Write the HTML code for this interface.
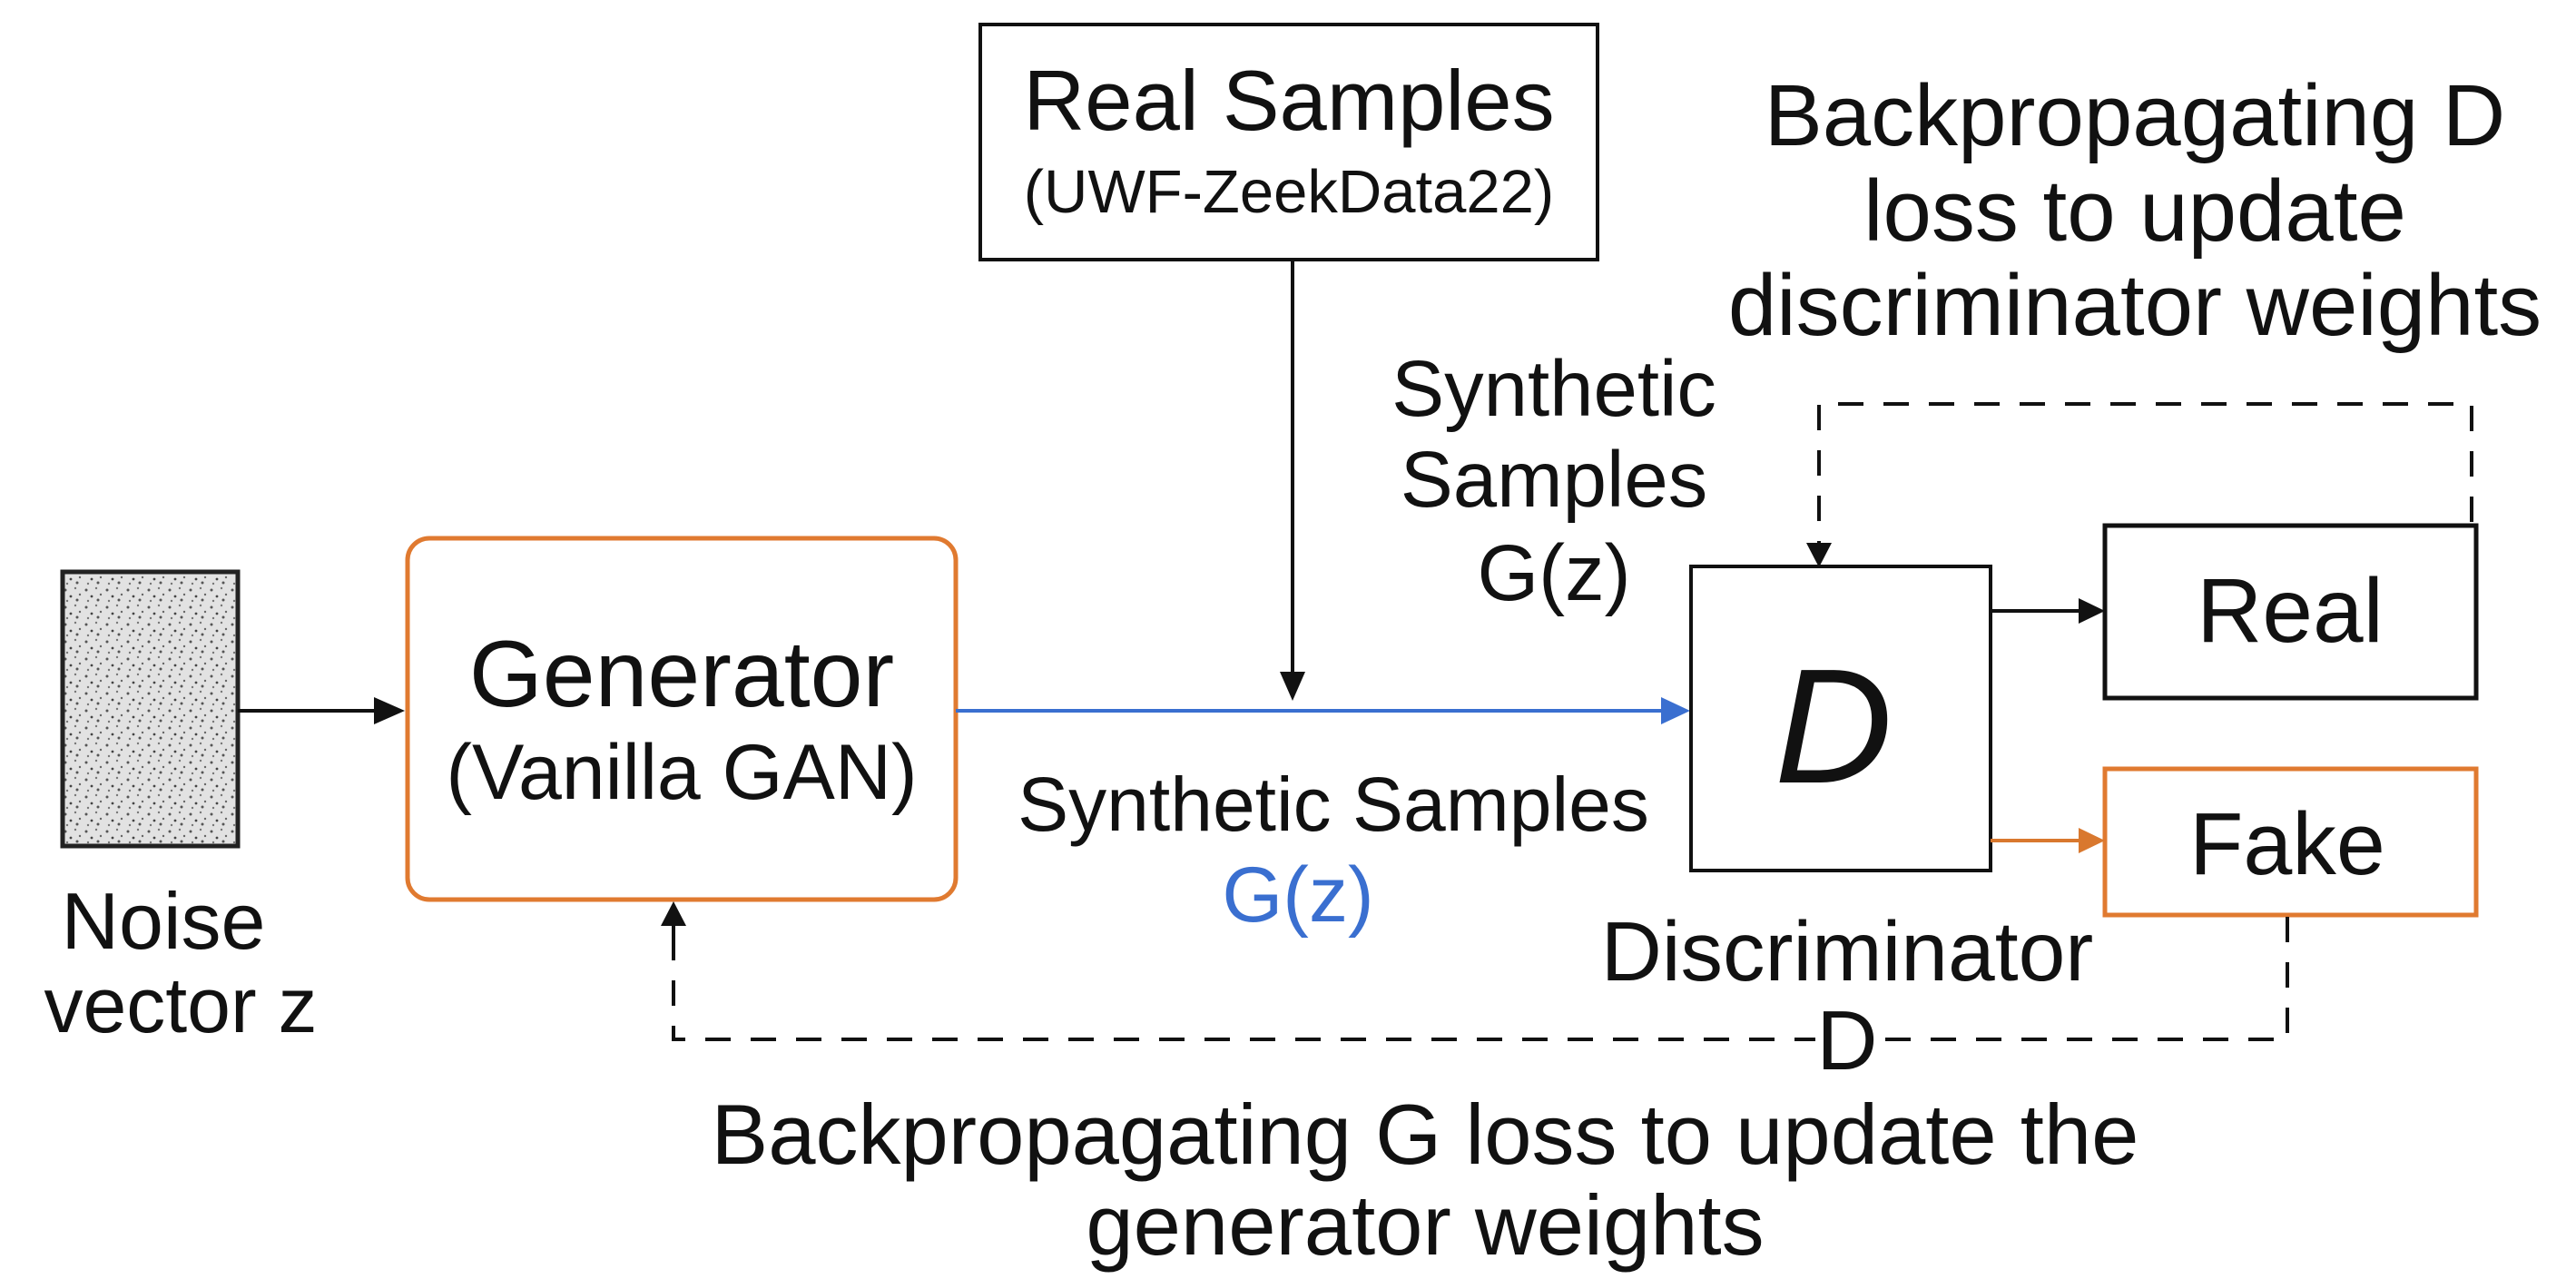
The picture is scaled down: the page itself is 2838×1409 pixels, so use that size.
<!DOCTYPE html>
<html><head><meta charset="utf-8"><style>
html,body{margin:0;padding:0;background:#fff;}
svg{display:block;}
text{font-family:"Liberation Sans",Arial,sans-serif;fill:#111;}
</style></head><body>
<svg width="2838" height="1409" viewBox="0 0 2838 1409" xmlns="http://www.w3.org/2000/svg">
<defs>
<pattern id="nz" width="23" height="19" patternUnits="userSpaceOnUse">
<rect width="23" height="19" fill="#e2e2e2"/>
<circle cx="3" cy="4" r="1.5" fill="#555"/><circle cx="14" cy="2" r="1.2" fill="#777"/>
<circle cx="9" cy="11" r="1.4" fill="#444"/><circle cx="19" cy="9" r="1.2" fill="#666"/>
<circle cx="5" cy="16" r="1.2" fill="#777"/><circle cx="16" cy="15" r="1.5" fill="#555"/>
</pattern>
</defs>
<rect width="2838" height="1409" fill="#fff"/>

<!-- Noise -->
<rect x="69" y="630" width="193" height="302" fill="url(#nz)" stroke="#222" stroke-width="5"/>
<text x="180" y="1045" font-size="88" text-anchor="middle">Noise</text>
<text x="199" y="1137" font-size="86" text-anchor="middle">vector z</text>
<line x1="262" y1="783" x2="440" y2="783" stroke="#111" stroke-width="4"/>
<path d="M412,768 L446,783 L412,798 z" fill="#111"/>

<!-- Generator -->
<rect x="449" y="593" width="604" height="398" rx="24" fill="#fff" stroke="#e07a30" stroke-width="5"/>
<text x="751" y="778" font-size="104" text-anchor="middle">Generator</text>
<text x="751" y="880" font-size="86" text-anchor="middle">(Vanilla GAN)</text>

<!-- Real samples -->
<rect x="1080" y="27" width="680" height="259" fill="#fff" stroke="#111" stroke-width="4"/>
<text x="1420" y="143" font-size="94" text-anchor="middle">Real Samples</text>
<text x="1420" y="234" font-size="67" text-anchor="middle">(UWF-ZeekData22)</text>
<line x1="1424" y1="286" x2="1424" y2="745" stroke="#111" stroke-width="4"/>
<path d="M1410,740 L1424,772 L1438,740 z" fill="#111"/>

<!-- blue arrow -->
<line x1="1053" y1="783" x2="1835" y2="783" stroke="#3a6fd0" stroke-width="4"/>
<path d="M1830,768 L1862,783 L1830,798 z" fill="#3a6fd0"/>
<text x="1469" y="915" font-size="84" text-anchor="middle">Synthetic Samples</text>
<text x="1430" y="1015" font-size="86" text-anchor="middle" style="fill:#3a6fd0">G(z)</text>

<text x="1712" y="458" font-size="87" text-anchor="middle">Synthetic</text>
<text x="1712" y="558" font-size="87" text-anchor="middle">Samples</text>
<text x="1712" y="661" font-size="87" text-anchor="middle">G(z)</text>

<!-- D box -->
<rect x="1863" y="624" width="330" height="335" fill="#fff" stroke="#111" stroke-width="4"/>
<text x="2020" y="862" font-size="180" text-anchor="middle" font-style="italic">D</text>
<text x="2035" y="1080" font-size="93" text-anchor="middle">Discriminator</text>

<!-- Real / Fake -->
<rect x="2319" y="579" width="409" height="190" fill="#fff" stroke="#111" stroke-width="5"/>
<text x="2523" y="707" font-size="100" text-anchor="middle">Real</text>
<line x1="2193" y1="673" x2="2295" y2="673" stroke="#111" stroke-width="4"/>
<path d="M2290,659 L2319,673 L2290,687 z" fill="#111"/>
<rect x="2319" y="847" width="409" height="161" fill="#fff" stroke="#e07a30" stroke-width="5"/>
<text x="2520" y="963" font-size="97" text-anchor="middle">Fake</text>
<line x1="2193" y1="926" x2="2295" y2="926" stroke="#d9782e" stroke-width="4"/>
<path d="M2290,912 L2319,926 L2290,940 z" fill="#d9782e"/>

<!-- dashed D loop -->
<path d="M2723,575 L2723,445 L2004,445 L2004,605" fill="none" stroke="#111" stroke-width="4" stroke-dasharray="28,22"/>
<path d="M1990,598 L2004,625 L2018,598 z" fill="#111"/>

<!-- dashed G loop -->
<path d="M2520,1010 L2520,1145 L742,1145 L742,1030" fill="none" stroke="#111" stroke-width="4" stroke-dasharray="28,22"/>
<line x1="742" y1="1040" x2="742" y2="1010" stroke="#111" stroke-width="4"/>
<path d="M728,1020 L742,993 L756,1020 z" fill="#111"/>
<rect x="2000" y="1105" width="70" height="85" fill="#fff"/>
<text x="2035" y="1178" font-size="93" text-anchor="middle">D</text>

<!-- Top right text -->
<text x="2352" y="160" font-size="96" text-anchor="middle">Backpropagating D</text>
<text x="2352" y="265" font-size="96" text-anchor="middle">loss to update</text>
<text x="2352" y="369" font-size="96" text-anchor="middle">discriminator weights</text>

<!-- bottom text -->
<text x="1570" y="1282" font-size="94" text-anchor="middle">Backpropagating G loss to update the</text>
<text x="1570" y="1382" font-size="94" text-anchor="middle">generator weights</text>
</svg>
</body></html>
